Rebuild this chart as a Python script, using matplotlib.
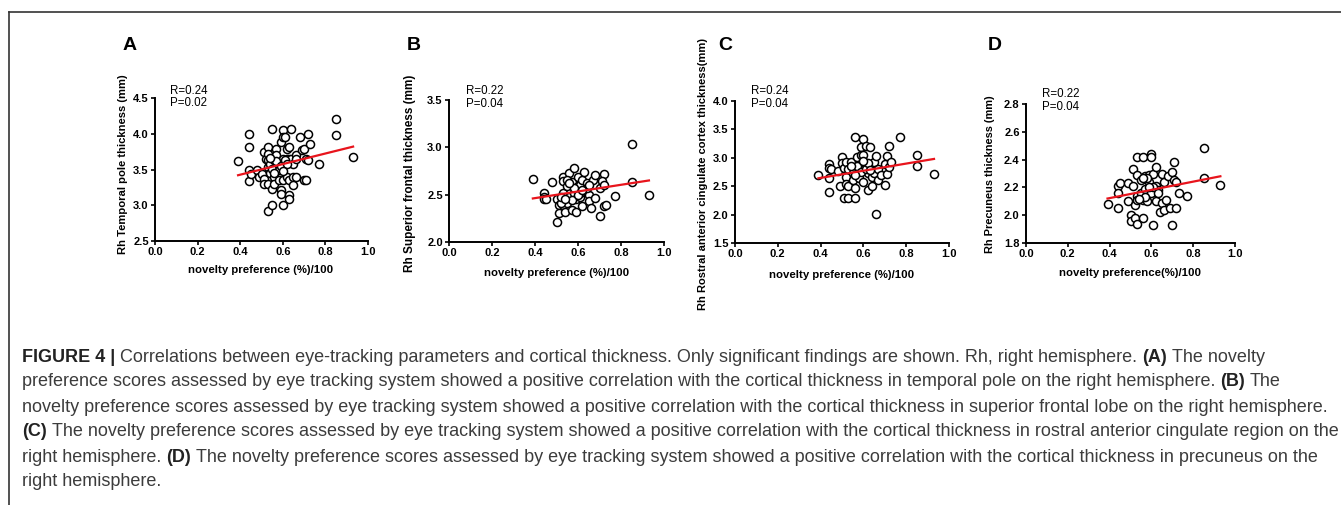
import matplotlib.pyplot as plt

W, H = 1341, 505

# ---- data ----
a_x = [0.39, 0.44, 0.44, 0.44, 0.44, 0.45, 0.48, 0.49, 0.50, 0.51, 0.51, 0.51, 0.52, 0.53, 0.53,
       0.53, 0.53, 0.53, 0.53, 0.54, 0.54, 0.55, 0.55, 0.55, 0.56, 0.56, 0.56, 0.57, 0.57, 0.57,
       0.58, 0.59, 0.59, 0.59, 0.59, 0.60, 0.60, 0.60, 0.60, 0.60, 0.61, 0.62, 0.62, 0.62, 0.63,
       0.63, 0.63, 0.63, 0.63, 0.64, 0.64, 0.65, 0.65, 0.65, 0.66, 0.66, 0.68, 0.69, 0.70, 0.70,
       0.71, 0.71, 0.72, 0.72, 0.73, 0.77, 0.85, 0.85, 0.93,
       0.55, 0.57, 0.58, 0.59, 0.61, 0.62, 0.54, 0.56, 0.60, 0.66]
a_y = [3.62, 3.99, 3.82, 3.50, 3.34, 3.44, 3.50, 3.40, 3.44, 3.37, 3.30, 3.74, 3.64, 3.81, 3.71,
       3.63, 3.54, 3.30, 2.92, 3.58, 3.45, 4.07, 3.23, 3.01, 3.63, 3.40, 3.30, 3.79, 3.70, 3.53,
       3.35, 3.88, 3.60, 3.21, 3.16, 4.05, 3.96, 3.65, 3.35, 3.01, 3.96, 3.78, 3.64, 3.40, 3.81,
       3.64, 3.35, 3.14, 3.09, 4.07, 3.64, 3.39, 3.28, 3.58, 3.70, 3.40, 3.96, 3.77, 3.79, 3.35,
       3.36, 3.65, 4.00, 3.63, 3.85, 3.58, 4.20, 3.98, 3.67,
       3.51, 3.62, 3.49, 3.55, 3.63, 3.58, 3.66, 3.45, 3.48, 3.65]

b_x = [0.39, 0.44, 0.44, 0.44, 0.45, 0.48, 0.50, 0.50, 0.51, 0.51, 0.53, 0.53, 0.53, 0.53, 0.53,
       0.54, 0.55, 0.55, 0.56, 0.56, 0.57, 0.57, 0.58, 0.58, 0.59, 0.59, 0.60, 0.60, 0.61, 0.61,
       0.62, 0.62, 0.63, 0.63, 0.64, 0.65, 0.65, 0.66, 0.67, 0.68, 0.68, 0.70, 0.70, 0.72, 0.72,
       0.71, 0.72, 0.73, 0.77, 0.85, 0.85, 0.93,
       0.61, 0.58, 0.55, 0.52, 0.52, 0.64, 0.65, 0.57, 0.60, 0.62, 0.56, 0.54]
b_y = [2.67, 2.52, 2.48, 2.45, 2.45, 2.63, 2.45, 2.21, 2.39, 2.31, 2.39, 2.69, 2.64, 2.52, 2.45,
       2.32, 2.41, 2.59, 2.73, 2.48, 2.34, 2.63, 2.52, 2.78, 2.45, 2.32, 2.59, 2.69, 2.48, 2.60,
       2.66, 2.38, 2.74, 2.55, 2.62, 2.50, 2.43, 2.36, 2.66, 2.71, 2.46, 2.57, 2.27, 2.38, 2.72,
       2.64, 2.60, 2.39, 2.49, 3.04, 2.63, 2.50,
       2.52, 2.57, 2.66, 2.41, 2.48, 2.57, 2.60, 2.44, 2.50, 2.55, 2.62, 2.45]

c_x = [0.39, 0.44, 0.44, 0.44, 0.44, 0.45, 0.48, 0.49, 0.50, 0.50, 0.51, 0.51, 0.52, 0.52, 0.52,
       0.53, 0.53, 0.53, 0.54, 0.55, 0.55, 0.56, 0.56, 0.56, 0.57, 0.58, 0.58, 0.58, 0.58, 0.59,
       0.59, 0.60, 0.60, 0.60, 0.60, 0.61, 0.61, 0.62, 0.62, 0.63, 0.63, 0.64, 0.64, 0.65, 0.65,
       0.66, 0.66, 0.67, 0.67, 0.68, 0.70, 0.70, 0.71, 0.71, 0.72, 0.72, 0.73, 0.77, 0.85, 0.85,
       0.93,
       0.57, 0.59, 0.61, 0.62, 0.54, 0.56, 0.60, 0.63]
c_y = [2.70, 2.89, 2.82, 2.64, 2.40, 2.80, 2.76, 2.51, 3.01, 2.91, 2.30, 2.82, 2.67, 2.92, 2.54,
       2.30, 2.80, 2.50, 2.93, 2.73, 2.61, 3.37, 2.30, 2.47, 3.02, 2.88, 2.73, 2.79, 2.64, 3.19,
       3.05, 2.79, 3.33, 2.58, 3.05, 3.20, 2.91, 2.73, 2.44, 2.85, 3.19, 2.67, 2.50, 2.93, 2.73,
       3.03, 2.01, 2.61, 2.80, 2.69, 2.89, 2.52, 3.03, 2.72, 3.21, 2.83, 2.92, 3.36, 3.05, 2.86,
       2.72,
       2.85, 2.75, 2.80, 2.90, 2.85, 2.70, 2.95, 2.78]

d_x = [0.39, 0.44, 0.44, 0.44, 0.45, 0.49, 0.49, 0.50, 0.50, 0.51, 0.51, 0.52, 0.52, 0.53, 0.53,
       0.53, 0.53, 0.53, 0.55, 0.55, 0.56, 0.56, 0.56, 0.57, 0.57, 0.58, 0.59, 0.59, 0.60, 0.60,
       0.60, 0.61, 0.61, 0.62, 0.62, 0.62, 0.63, 0.64, 0.65, 0.65, 0.66, 0.66, 0.67, 0.68, 0.69,
       0.70, 0.70, 0.71, 0.71, 0.72, 0.72, 0.73, 0.77, 0.85, 0.85, 0.93,
       0.57, 0.58, 0.61, 0.54, 0.56, 0.63, 0.59]
d_y = [2.08, 2.21, 2.16, 2.05, 2.23, 2.10, 2.23, 2.00, 1.96, 2.33, 2.21, 2.07, 1.98, 2.42, 2.29,
       2.14, 2.11, 1.94, 2.25, 2.16, 2.42, 1.98, 2.11, 2.28, 2.19, 2.10, 2.24, 2.29, 2.44, 2.42,
       2.16, 2.30, 1.93, 2.35, 2.21, 2.10, 2.18, 2.02, 2.30, 2.09, 2.24, 2.04, 2.11, 2.28, 2.05,
       1.93, 2.31, 2.38, 2.25, 2.05, 2.24, 2.16, 2.14, 2.48, 2.27, 2.22,
       2.13, 2.27, 2.20, 2.12, 2.27, 2.16, 2.20]

# regression line ends (at x = 0.39 and 0.93)
fit_x = [0.39, 0.93]
a_fit = [3.42, 3.82]
b_fit = [2.46, 2.65]
c_fit = [2.64, 2.98]
d_fit = [2.12, 2.28]

a_yticks = [2.5, 3.0, 3.5, 4.0, 4.5]
b_yticks = [2.0, 2.5, 3.0, 3.5]
c_yticks = [1.5, 2.0, 2.5, 3.0, 3.5, 4.0]
d_yticks = [1.8, 2.0, 2.2, 2.4, 2.6, 2.8]
xticks = [0.0, 0.2, 0.4, 0.6, 0.8, 1.0]

stats = [("R=0.24", "P=0.02"), ("R=0.22", "P=0.04"), ("R=0.24", "P=0.04"), ("R=0.22", "P=0.04")]
letters = ["A", "B", "C", "D"]
ylabels = ["Rh Temporal pole thickness (mm)", "Rh Superior frontal thickness (mm)",
           "Rh Rostral anterior cingulate cortex thickness(mm)", "Rh Precuneus thickness (mm)"]
xlabels = ["novelty preference (%)/100"] * 3 + ["novelty preference(%)/100"]

caption = [
    [("FIGURE 4 |", True), ("Correlations between eye-tracking parameters and cortical thickness. "
      "Only significant findings are shown. Rh, right hemisphere.", False), ("(A)", True), ("The novelty", False)],
    [("preference scores assessed by eye tracking system showed a positive correlation with the cortical "
      "thickness in temporal pole on the right hemisphere.", False), ("(B)", True), ("The", False)],
    [("novelty preference scores assessed by eye tracking system showed a positive correlation with the "
      "cortical thickness in superior frontal lobe on the right hemisphere.", False)],
    [("(C)", True), ("The novelty preference scores assessed by eye tracking system showed a positive "
      "correlation with the cortical thickness in rostral anterior cingulate region on the", False)],
    [("right hemisphere.", False), ("(D)", True), ("The novelty preference scores assessed by eye tracking "
      "system showed a positive correlation with the cortical thickness in precuneus on the", False)],
    [("right hemisphere.", False)],
]

# ---- layout (pixels) ----
# axes box: left, right, top, bottom
boxes = [(155, 368, 98, 241), (449, 664, 100, 242), (735, 949, 101, 243), (1026, 1235, 104, 243)]
ylab_pos = [(123, 164), (410, 173), (703, 174), (990, 174)]
ylab_size = [8.1, 8.5, 8.0, 7.9]
xlab_pos = [(261, 270), (557, 273), (842, 275), (1130, 273)]
letter_pos = [(130, 45), (414, 45), (725, 45), (995, 45)]
stat_pos = [(170, 91, 103), (466, 91, 104), (751, 91, 104), (1042, 94, 107)]

plt.rcParams['font.family'] = ['Liberation Sans', 'DejaVu Sans']

fig = plt.figure(figsize=(W / 100, H / 100), dpi=100)


def fx(x):
    return x / W


def fy(y):
    return 1 - y / H


panels = [
    (a_x, a_y, a_fit, a_yticks),
    (b_x, b_y, b_fit, b_yticks),
    (c_x, c_y, c_fit, c_yticks),
    (d_x, d_y, d_fit, d_yticks),
]

for i, (xs, ys, fit, yt) in enumerate(panels):
    l, r, t, b = boxes[i]
    ax = fig.add_axes([fx(l), fy(b), (r - l) / W, (b - t) / H])
    ax.plot(xs, ys, 'o', ms=5.8, mfc='white', mec='black', mew=1.1, zorder=2)
    ax.plot(fit_x, fit, color='#e8141c', lw=1.6, zorder=3)
    ax.set_xlim(0, 1.0)
    ax.set_ylim(yt[0], yt[-1])
    ax.set_xticks(xticks)
    ax.set_yticks(yt)
    ax.set_xticklabels([f"{v:.1f}" for v in xticks], fontweight='bold', fontsize=8)
    ax.set_yticklabels([f"{v:.1f}" for v in yt], fontweight='bold', fontsize=8)
    for s in ['top', 'right']:
        ax.spines[s].set_visible(False)
    for s in ['left', 'bottom']:
        ax.spines[s].set_linewidth(1.4)
    ax.tick_params(direction='out', length=3, width=1.2, pad=1.5)
    ax.patch.set_alpha(0)

    fig.text(fx(ylab_pos[i][0]), fy(ylab_pos[i][1]), ylabels[i], rotation=90,
             ha='center', va='center', fontsize=ylab_size[i], fontweight='bold')
    fig.text(fx(xlab_pos[i][0]), fy(xlab_pos[i][1]), xlabels[i],
             ha='center', va='center', fontsize=8.2, fontweight='bold')
    fig.text(fx(letter_pos[i][0]), fy(letter_pos[i][1]), letters[i],
             ha='center', va='center', fontsize=14, fontweight='bold')
    sx, sy1, sy2 = stat_pos[i]
    fig.text(fx(sx), fy(sy1), stats[i][0], ha='left', va='center', fontsize=8.3)
    fig.text(fx(sx), fy(sy2), stats[i][1], ha='left', va='center', fontsize=8.3)

# frame lines
fig.add_artist(plt.Line2D([fx(9), 1], [fy(12), fy(12)], color='#333333', lw=1.2))
fig.add_artist(plt.Line2D([fx(9), fx(9)], [fy(12), 0], color='#333333', lw=1.2))

# caption with mixed bold pieces
renderer = fig.canvas.get_renderer()
cap_size = 13.0
cap_color = '#3c3c3c'
probe1 = fig.text(0, 0, "x x", fontsize=cap_size)
probe2 = fig.text(0, 0, "xx", fontsize=cap_size)
space_w = probe1.get_window_extent(renderer).width - probe2.get_window_extent(renderer).width
probe1.remove()
probe2.remove()

line_y = [357, 382, 407, 432, 457, 482]
for row, yy in zip(caption, line_y):
    x = 22.0
    for j, (txt, bold) in enumerate(row):
        t = fig.text(fx(x), fy(yy), txt, fontsize=cap_size, va='center', ha='left',
                     fontweight='bold' if bold else 'normal',
                     color='#222222' if bold else cap_color)
        x += t.get_window_extent(renderer).width + space_w

fig.savefig("out.png", dpi=100)
